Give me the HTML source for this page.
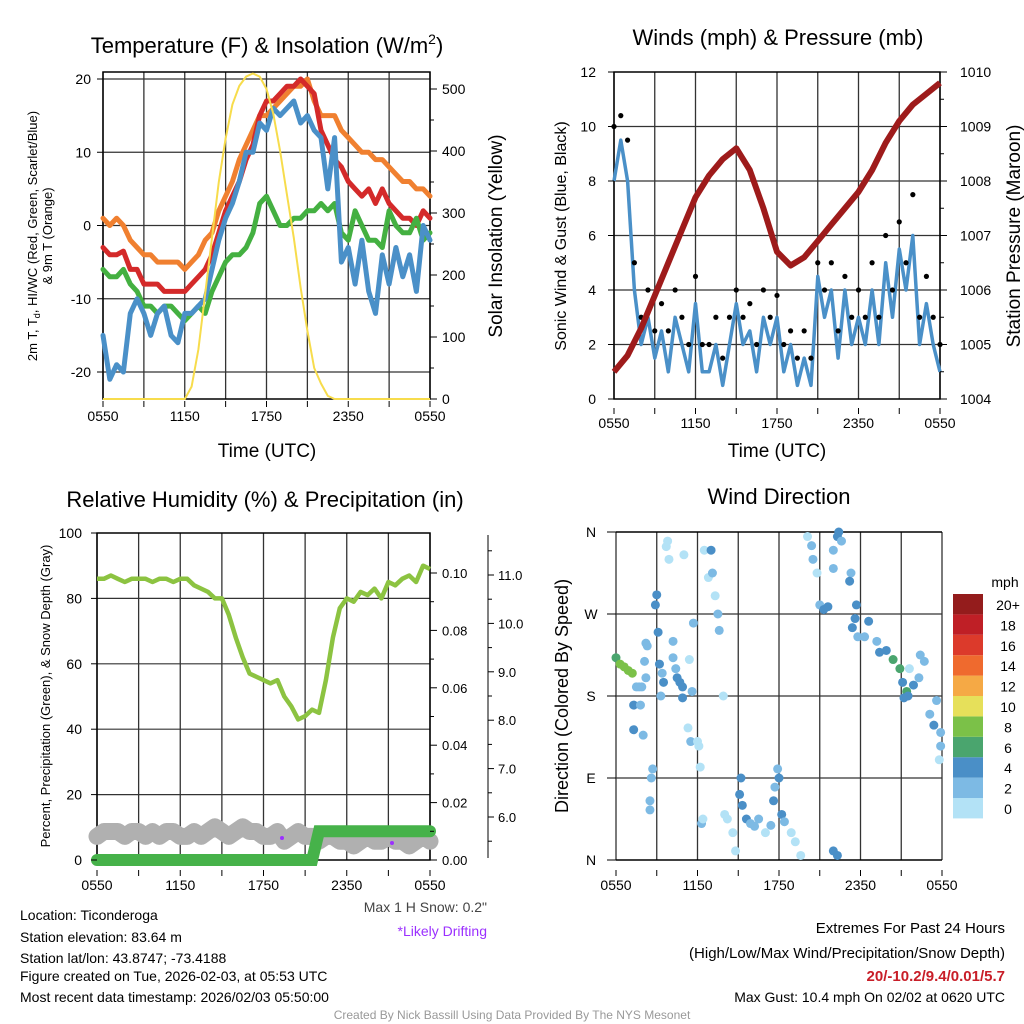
<!DOCTYPE html>
<html><head><meta charset="utf-8">
<style>
html,body{margin:0;padding:0;background:#fff;}
svg{display:block;font-family:"Liberation Sans",sans-serif;}
</style></head>
<body>
<svg id="fig" width="1024" height="1024" viewBox="0 0 1024 1024">
<rect width="1024" height="1024" fill="#fff"/>
</svg>
<script>
// ---------- DATA ----------
const tHalf = [0,0.5,1,1.5,2,2.5,3,3.5,4,4.5,5,5.5,6,6.5,7,7.5,8,8.5,9,9.5,10,10.5,11,11.5,12,12.5,13,13.5,14,14.5,15,15.5,16,16.5,17,17.5,18,18.5,19,19.5,20,20.5,21,21.5,22,22.5,23,23.5,24];
const tempRed = [-3,-4,-4,-3.5,-6,-6,-8,-8,-8,-9,-9,-9,-9,-8,-7,-6,-4,-1,2,4,6,9,11,15,17,17,18,19,19,20,19,18,13,11,9,8,6,5,4,5,3,5,3,2,1,1,0,2,1];
const tempOrange = [1,0,1,0,-2,-3,-4,-4,-5,-5,-5,-5,-6,-5,-4,-2,-1,2,4,6,9,11,13,15,15,16,17,18,19,19,20,17,15,15,15,13,12,11,10,10,9,9,8,7,6,6,5,5,4];
const tempGreen = [-6,-7,-7,-6,-8,-9,-11,-11,-12,-11,-11,-12,-13,-12,-11,-12,-9,-7,-5,-4,-4,-3,-1,3,4,2,0,0,1,1,2,2,3,2,3,-1,-2,2,0,-2,-2,-3,2,0,-1,-1,1,-2,-1];
const tempBlue = [-15,-21,-19,-20,-12,-10,-12,-15,-12,-11,-15,-16,-12,-12,-11,-10,-6,-2,1,3,6,10,10,14,13,16,15,16,17,14,15,13,12,5,12,-5,-3,-8,-2,-9,-12,-4,-8,-3,-7,-4,-9,0,-2];
const insolation = [0,0,0,0,0,0,0,0,0,0,0,0,0,20,80,170,260,350,420,475,505,520,525,520,500,460,400,330,260,180,110,50,25,5,0,0,0,0,0,0,0,0,0,0,0,0,0,0,0];
const windSpeed = [8,9.5,8,4,2,3,1.5,2.5,1,3,2,1,3.5,1,1,2,0.5,2,3.5,2,2.5,1,3,2,3,1,2,0.5,1.5,0.5,4.5,3,4,1.5,4,2,3,2,4,2,5,3,5.5,4,6,2,3.5,2,1];
const windGust = [10,10.4,9.5,5,3,4,2.5,3.5,2.5,4,3,2,4.5,2,2,3,1.5,3,4,3,3.5,2,4,3,3.8,2,2.5,1.5,2.5,1.5,5,4,5,2.5,4.5,3,4,3,5,3,6,4,6.5,5,7.5,3,4.5,3,2];
const pressHours = [0,1,2,3,4,5,6,7,8,9,10,11,12,13,14,15,16,17,18,19,20,21,22,23,24];
const pressure = [1004.5,1004.8,1005.3,1005.9,1006.5,1007.1,1007.7,1008.1,1008.4,1008.6,1008.2,1007.5,1006.7,1006.45,1006.6,1006.9,1007.2,1007.5,1007.8,1008.2,1008.7,1009.1,1009.4,1009.6,1009.8];
const rh = [86,86,87,86,85,86,86,86,85,86,86,85,86,86,84,83,82,80,80,75,68,62,57,56,55,54,55,50,47,43,44,46,45,55,68,77,80,79,82,81,83,80,85,84,86,87,85,90,89];
const snow = [5.6,5.7,5.7,5.7,5.6,5.7,5.7,5.6,5.7,5.6,5.7,5.7,5.6,5.6,5.7,5.6,5.7,5.8,5.7,5.6,5.7,5.8,5.7,5.7,5.6,5.6,5.7,5.5,5.6,5.7,5.6,5.6,5.5,5.6,5.6,5.5,5.5,5.4,5.5,5.6,5.5,5.5,5.6,5.5,5.5,5.4,5.5,5.6,5.5];
const precip = [0,0,0,0,0,0,0,0,0,0,0,0,0,0,0,0,0,0,0,0,0,0,0,0,0,0,0,0,0,0,0,0,0.01,0.01,0.01,0.01,0.01,0.01,0.01,0.01,0.01,0.01,0.01,0.01,0.01,0.01,0.01,0.01,0.01];
const dirTime = [0,0.3,0.6,0.9,1.2,1.5,1.7,1.9,1.3,1.8,1.3,2.0,2.2,2.3,2.2,2.1,2.7,2.6,2.5,2.5,2.9,3.0,3.1,3.2,3.4,3.5,3.3,3.7,3.8,3.9,4.2,4.2,4.4,4.5,4.7,4.9,4.9,5.0,5.4,5.6,5.7,5.5,5.3,6.0,6.1,6.2,6.3,6.4,6.5,6.8,7.0,7.1,7.3,7.5,7.6,7.9,8.0,8.2,8.8,8.6,9.2,9.1,9.3,9.6,9.9,10.2,10.5,11.0,11.4,11.6,11.7,11.9,12.0,12.2,12.4,12.9,13.2,13.6,14.1,14.4,14.5,14.8,15.0,15.3,15.6,16.0,16.3,16.4,16.6,16.0,16.3,16.0,17.3,17.2,17.7,17.6,17.4,17.8,18.6,18.3,19.2,19.4,19.9,20.4,20.9,21.1,21.4,21.5,21.9,22.3,22.7,22.4,23.1,23.4,23.6,23.9,23.8,23.9,21.6,21.2];
const dirDeg = [222,215,212,208,205,190,190,190,170,170,143,137,238,235,200,218,100,90,65,55,280,291,250,215,205,195,180,344,350,330,240,222,210,200,195,190,178,335,220,185,260,130,145,130,125,102,40,45,340,310,340,315,290,270,252,180,50,45,10,30,90,72,60,45,40,37,45,30,38,65,80,100,90,50,42,30,20,5,355,345,330,315,280,275,278,340,355,360,350,10,5,320,315,306,280,265,255,245,262,245,240,228,230,220,210,195,185,180,192,200,218,225,160,148,175,140,110,125,210,178];
const dirSpeed = [6,8,8,8,8,2,2,2,4,2,4,2,1,2,2,2,1,2,2,2,4,4,4,4,2,4,1,0,0,0,2,2,2,4,4,4,4,0,0,2,2,2,0,0,0,0,2,0,0,0,4,2,0,2,2,0,0,0,0,0,4,4,4,4,2,2,2,0,2,4,2,2,4,4,2,0,0,0,0,1,2,0,2,4,4,2,4,4,2,4,4,2,2,4,4,4,4,2,4,2,2,4,4,6,6,4,6,4,4,2,2,2,2,4,2,2,0,2,0,4];
const xTicks = ["0550","1150","1750","2350","0550"];
const speedBins = ["0","2","4","6","8","10","12","14","16","18","20+"];
const speedColors = ["#b3e2f6","#7dbae4","#4a8fc7","#4aa56e","#7bc148","#e6e05a","#f5a945","#ef6a2e","#dc3a2b","#bf1f26","#941c1c"];

// ---------- HELPERS ----------
const NS="http://www.w3.org/2000/svg";
const svg=document.getElementById('fig');
function el(tag,attrs,parent){const e=document.createElementNS(NS,tag);for(const k in attrs)e.setAttribute(k,attrs[k]);(parent||svg).appendChild(e);return e;}
function txt(x,y,s,size,anchor,extra){const e=el('text',Object.assign({x:x,y:y,'font-size':size,'text-anchor':anchor||'middle',fill:'#000'},extra||{}));e.textContent=s;return e;}
function lin(d0,d1,r0,r1){return v=>r0+(v-d0)/(d1-d0)*(r1-r0);}
function pathOf(xs,ys,fx,fy){return xs.map((t,i)=>(i?'L':'M')+fx(t).toFixed(1)+','+fy(ys[i]).toFixed(1)).join('');}
function grid(L,R,T,B,fx,yvals,fy){
  const g=el('g',{});
  
  
  for(let h=0;h<=24;h+=3){el('line',{x1:fx(h),x2:fx(h),y1:T,y2:B,stroke:'#333','stroke-width':1.3},g);}
  yvals.forEach(v=>el('line',{x1:L,x2:R,y1:fy(v),y2:fy(v),stroke:'#333','stroke-width':1.2},g));
  return g;
}
function xLabels(fx,y){xTicks.forEach((s,i)=>{const t=txt(fx(i*6),y,s,14);});
  for(let h=0;h<=24;h+=3){el('line',{x1:fx(h),x2:fx(h),y1:y-20,y2:y-14,stroke:'#000'});}}

// ---------- PANEL 1: Temperature ----------
{
const L=103,R=430,T=72,B=399;
const fx=lin(0,24,L,R), fy=lin(-20,20,372,79), fi=lin(0,500,399,89);
grid(L,R,T,B,fx,[20,10,0,-10,-20],fy);
el('rect',{x:L,y:T,width:R-L,height:B-T,fill:'none',stroke:'#000','stroke-width':1.5});
const t=txt(267,53,'Temperature (F) & Insolation (W/m',22);
const sup=el('tspan',{dy:-9,'font-size':14},t);sup.textContent='2';const rp=el('tspan',{dy:9},t);rp.textContent=')';
const series=[[tempOrange,'#f08030','orange-9m-temp-line'],[tempRed,'#d42a2a','red-2m-temp-line'],[tempGreen,'#44b041','green-dewpoint-line'],[tempBlue,'#4a90c8','blue-windchill-line']];
series.forEach(s=>{const p=el('path',{d:pathOf(tHalf,s[0],fx,fy),fill:'none',stroke:s[1],'stroke-width':5,'stroke-linejoin':'round','stroke-linecap':'round'});

});
const pi=el('path',{d:pathOf(tHalf,insolation,fx,fi),fill:'none',stroke:'#f7dc4c','stroke-width':2});


[20,10,0,-10,-20].forEach(v=>{txt(L-12,fy(v)+5,String(v),14,'end');el('line',{x1:L-6,x2:L,y1:fy(v),y2:fy(v),stroke:'#000'});});
for(let v=0;v<=500;v+=50){el('line',{x1:R,x2:R+(v%100?4:7),y1:fi(v),y2:fi(v),stroke:'#000'});}
[0,100,200,300,400,500].forEach(v=>txt(R+12,fi(v)+5,String(v),14,'start'));
xLabels(fx,421);
const xl=txt(267,457,'Time (UTC)',19);
const yl=txt(0,0,'2m T, T',13,'middle',{transform:'translate(37,236) rotate(-90)'});
const sb=el('tspan',{dy:3,'font-size':9},yl);sb.textContent='d';const r2=el('tspan',{dy:-3},yl);r2.textContent=', HI/WC (Red, Green, Scarlet/Blue)';
txt(0,0,'& 9m T (Orange)',13,'middle',{transform:'translate(52,236) rotate(-90)'});
const yr=txt(0,0,'Solar Insolation (Yellow)',19,'middle',{transform:'translate(502,236) rotate(-90)'});
}

// ---------- PANEL 2: Winds ----------
{
const L=614,R=940,T=72,B=399;
const fx=lin(0,24,L,R), fy=lin(0,12,399,72), fp=lin(1004,1010,399,72);
grid(L,R,T,B,fx,[2,4,6,8,10],fy);
el('rect',{x:L,y:T,width:R-L,height:B-T,fill:'none',stroke:'#000','stroke-width':1.5});
const t=txt(778,45,'Winds (mph) & Pressure (mb)',22);
const w=el('path',{d:pathOf(tHalf,windSpeed,fx,fy),fill:'none',stroke:'#4a90c8','stroke-width':3.5,'stroke-linejoin':'round'});


tHalf.forEach((h,i)=>{const c=el('circle',{cx:fx(h),cy:fy(windGust[i]),r:2.6,fill:'#000'});

});
const p=el('path',{d:pathOf(pressHours,pressure,fx,fp),fill:'none',stroke:'#9e1b1b','stroke-width':6,'stroke-linejoin':'round'});


[0,2,4,6,8,10,12].forEach(v=>{txt(L-18,fy(v)+5,String(v),14,'end');el('line',{x1:L-6,x2:L,y1:fy(v),y2:fy(v),stroke:'#000'});});
for(let v=1004;v<=1010;v+=0.5){el('line',{x1:R,x2:R+(v%1?4:7),y1:fp(v),y2:fp(v),stroke:'#000'});}
[1004,1005,1006,1007,1008,1009,1010].forEach(v=>txt(R+20,fp(v)+5,String(v),14,'start'));
xLabels(fx,428);
txt(777,457,'Time (UTC)',19);
txt(0,0,'Sonic Wind & Gust (Blue, Black)',16,'middle',{transform:'translate(566,236) rotate(-90)'});
txt(0,0,'Station Pressure (Maroon)',19,'middle',{transform:'translate(1020,236) rotate(-90)'});
}

// ---------- PANEL 3: RH ----------
{
const L=97,R=430,T=533,B=860;
const fx=lin(0,24,L,R), fy=lin(0,100,860,533), fpr=lin(0,0.1,860,573), fs=lin(6,11,817,575);
grid(L,R,T,B,fx,[20,40,60,80],fy);
el('rect',{x:L,y:T,width:R-L,height:B-T,fill:'none',stroke:'#000','stroke-width':1.5});
const t=txt(265,507,'Relative Humidity (%) & Precipitation (in)',22);
const s=el('path',{d:pathOf(tHalf,snow,fx,fs),fill:'none',stroke:'#b0b0b0','stroke-width':17,'stroke-linejoin':'round','stroke-linecap':'round'});


const pr=el('path',{d:pathOf(tHalf,precip,fx,fpr),fill:'none',stroke:'#46b24a','stroke-width':12,'stroke-linecap':'round'});


const h=el('path',{d:pathOf(tHalf,rh,fx,fy),fill:'none',stroke:'#8cc341','stroke-width':4.5,'stroke-linejoin':'round'});


el('circle',{cx:282,cy:838,r:2,fill:'#9b30ff'});el('circle',{cx:392,cy:843,r:2,fill:'#9b30ff'});
[0,20,40,60,80,100].forEach(v=>{txt(L-15,fy(v)+5,String(v),14,'end');el('line',{x1:L-6,x2:L,y1:fy(v),y2:fy(v),stroke:'#000'});});
for(let v=0;v<=0.1001;v+=0.01){el('line',{x1:R,x2:R+(Math.round(v*100)%2?4:7),y1:fpr(v),y2:fpr(v),stroke:'#000'});}
[0,0.02,0.04,0.06,0.08,0.10].forEach(v=>txt(R+12,fpr(v)+5,v.toFixed(2),13,'start'));
el('line',{x1:488,x2:488,y1:535,y2:858,stroke:'#000'});
for(let v=5.5;v<=11.6;v+=0.5){el('line',{x1:488,x2:(v%1?492:494),y1:fs(v),y2:fs(v),stroke:'#000'});}
[6,7,8,9,10,11].forEach(v=>txt(498,fs(v)+5,v.toFixed(1),13,'start'));
xLabels(fx,890);
txt(0,0,'Percent, Precipitation (Green), & Snow Depth (Gray)',13,'middle',{transform:'translate(50,696) rotate(-90)'});
txt(487,912,'Max 1 H Snow: 0.2"',14,'end',{fill:'#444'});
txt(487,936,'*Likely Drifting',14,'end',{fill:'#9b30ff'});
}

// ---------- PANEL 4: Wind direction ----------
{
const L=616,R=942,T=532,B=860;
const fx=lin(0,24,L,R), fy=lin(0,360,860,532);
grid(L,R,T,B,fx,[90,180,270],fy);
el('line',{x1:L,x2:R,y1:T,y2:T,stroke:'#000','stroke-width':1.5});el('line',{x1:L,x2:R,y1:B,y2:B,stroke:'#000','stroke-width':1.5});
const t=txt(779,504,'Wind Direction',22);
dirTime.forEach((h,i)=>{const bin=Math.min(10,Math.round(dirSpeed[i]/2));const c=el('circle',{cx:fx(h),cy:fy(dirDeg[i]),r:4.5,fill:speedColors[bin]});

});
['N','E','S','W','N'].forEach((s,i)=>{txt(L-25,fy(i*90)+5,s,14);el('line',{x1:L-9,x2:L,y1:fy(i*90),y2:fy(i*90),stroke:'#000'});});
xLabels(fx,890);
txt(0,0,'Direction (Colored By Speed)',18,'middle',{transform:'translate(568,696) rotate(-90)'});
txt(1005,587,'mph',14);
speedColors.forEach((c,i)=>{const r=el('rect',{x:953,y:798-i*20.4,width:30,height:20.4,fill:c});


txt(1008,817-i*20.4-3,speedBins[i],14);});
}

// ---------- FOOTER ----------
const foot=[['Location: Ticonderoga',920],['Station elevation: 83.64 m',942],['Station lat/lon: 43.8747; -73.4188',963],['Figure created on Tue, 2026-02-03, at 05:53 UTC',981],['Most recent data timestamp: 2026/02/03 05:50:00',1002]];
foot.forEach(f=>{const e=txt(20,f[1],f[0],14,'start');});
txt(1005,933,'Extremes For Past 24 Hours',15,'end');
txt(1005,958,'(High/Low/Max Wind/Precipitation/Snow Depth)',15,'end');
txt(1005,981,'20/-10.2/9.4/0.01/5.7',15,'end',{fill:'#c81e28','font-weight':'bold'});
txt(1005,1002,'Max Gust: 10.4 mph On 02/02 at 0620 UTC',14,'end');
txt(512,1019,'Created By Nick Bassill Using Data Provided By The NYS Mesonet',12,'middle',{fill:'#999'});
</script>
</body></html>
